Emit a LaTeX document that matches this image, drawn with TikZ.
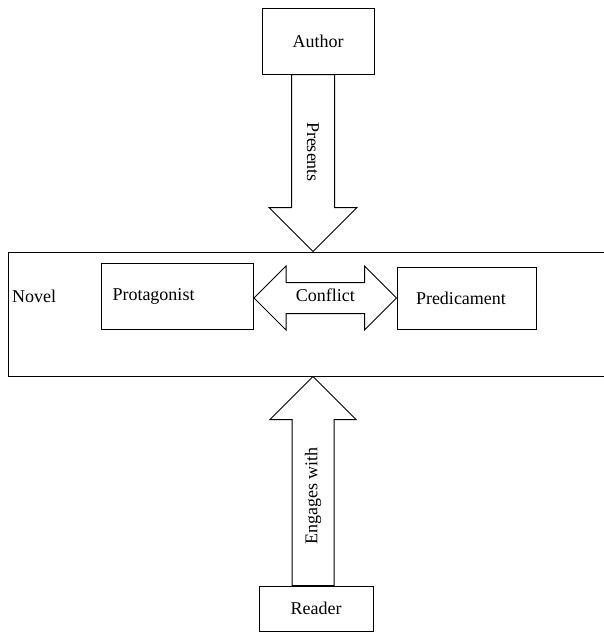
\documentclass[tikz,border=0pt]{standalone}
\usepackage{fontspec}
\setmainfont{Liberation Serif}
\usetikzlibrary{positioning,calc}

\tikzset{
  box/.style={draw, line width=1pt, inner ysep=0pt, font=\fontsize{18}{21}\selectfont},
  lbl/.style={inner sep=0pt, font=\fontsize{18}{21}\selectfont},
  fatarrow/.style={draw, fill=white, line width=1pt, line join=miter}
}

\begin{document}
\begin{tikzpicture}[x=1pt,y=-1pt]
  \useasboundingbox (0,0) rectangle (604,632);

  % the novel band, open on the right
  \node[box, minimum width=612pt, minimum height=124pt] (novel) at (314,314) {};
  \node[lbl, anchor=west] (novellbl) at (12,296) {Novel};

  \node[box, minimum width=112pt, minimum height=66pt] (author) at (318,41) {Author};
  \node[box, minimum width=114pt, minimum height=45pt] (reader) at (316,608.5) {Reader};

  \node[box, minimum height=66pt, text width=130pt, inner xsep=11pt, align=left] (protag) at (177.5,296) {Protagonist};
  \node[box, minimum height=62pt, text width=101pt, inner xsep=19pt, align=left] (predic) at (466.5,298) {Predicament};

  \coordinate (presTop) at ([xshift=-5pt]author.south);
  \coordinate (presTip) at (presTop |- novel.north);
  \coordinate (engBot) at ([xshift=-3pt]reader.north);
  \coordinate (engTip) at (engBot |- novel.south);

  % author presents the novel
  \draw[fatarrow] let \p1=(presTop), \p2=(presTip) in
    (\x1-21.5pt,\y1) -- (\x1-21.5pt,\y2+44pt) -- (\x1-44pt,\y2+44pt) -- (\p2)
    -- (\x1+44pt,\y2+44pt) -- (\x1+21.5pt,\y2+44pt) -- (\x1+21.5pt,\y1) -- cycle;
  \node[lbl, rotate=-90] (pres) at (313,152) {Presents};

  % reader engages with the novel
  \draw[fatarrow] let \p1=(engBot), \p2=(engTip) in
    (\x1-21pt,\y1) -- (\x1-21pt,\y2-43pt) -- (\x1-43pt,\y2-43pt) -- (\p2)
    -- (\x1+43pt,\y2-43pt) -- (\x1+21pt,\y2-43pt) -- (\x1+21pt,\y1) -- cycle;
  \node[lbl, rotate=90] (engages) at (313,496) {Engages with};

  % conflict between protagonist and predicament
  \draw[fatarrow] let \p1=(protag.east), \p2=(predic.west) in
    (\x1,\y2) -- (\x1+32pt,\y2+32pt) -- (\x1+32pt,\y2+15.5pt) -- (\x2-32pt,\y2+15.5pt)
    -- (\x2-32pt,\y2+32pt) -- (\x2,\y2) -- (\x2-32pt,\y2-32pt) -- (\x2-32pt,\y2-15.5pt)
    -- (\x1+32pt,\y2-15.5pt) -- (\x1+32pt,\y2-32pt) -- cycle;
  \node[lbl] (conflict) at ($(protag.east)!0.5!(predic.west)+(0,-2)$) {Conflict};
\end{tikzpicture}
\end{document}
